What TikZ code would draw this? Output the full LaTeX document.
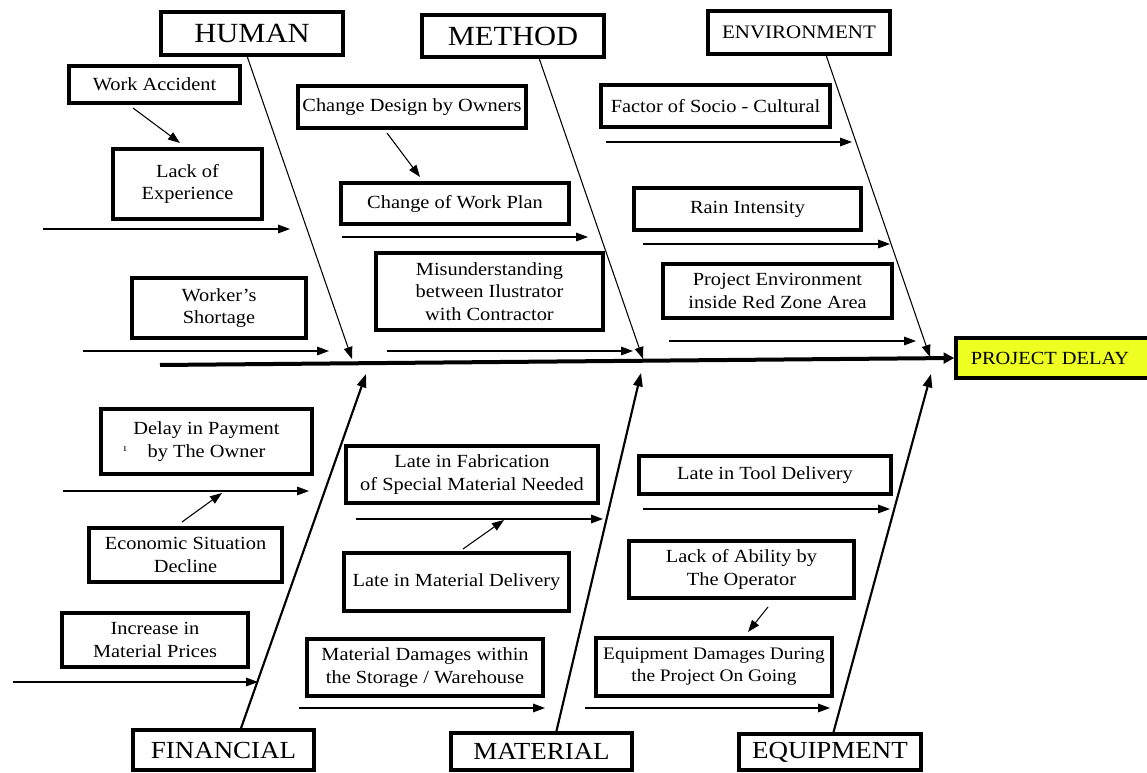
\documentclass[tikz,border=0pt]{standalone}
\usepackage{fontspec}
\setmainfont{Liberation Serif}[FakeStretch=1.1]
\usetikzlibrary{arrows.meta}
\definecolor{pdyellow}{RGB}{238,255,34}
\newcommand\bx[7][]{\node[cbox,#1,minimum width=\fpeval{(#5-#3)*0.75}pt,minimum height=\fpeval{(#6-#4)*0.75}pt] (#2) at ({(#3+#5)/2},{(#4+#6)/2}) {#7};}
\begin{document}
\begin{tikzpicture}[x=0.75pt,y=-0.75pt,
  cbox/.style={draw,line width=2.5pt,align=center,inner sep=0pt,font=\fontsize{13.9}{16.9}\selectfont},
  bigcat/.style={font=\fontsize{20.8}{24}\selectfont},
  midcat/.style={font=\fontsize{18.4}{22}\selectfont},
  smallcat/.style={font=\fontsize{14.3}{17}\selectfont},
  arr/.style={line width=0.8pt,-{Triangle[length=9pt,width=6.5pt]}},
  bbone/.style={line width=1.6pt,-{Triangle[length=10pt,width=7pt]}},
  spine/.style={line width=3pt,-{Triangle[length=8pt,width=8pt]}}]
\useasboundingbox (0,0) rectangle (1147,773);
% category boxes
\bx[bigcat]{human}{161}{12}{343}{55}{HUMAN}
\bx[bigcat]{method}{422}{15}{604}{57}{METHOD}
\bx[smallcat]{env}{708}{11}{890}{54}{ENVIRONMENT}
\bx[midcat]{fin}{133}{730}{314}{770}{FINANCIAL}
\bx[midcat]{mat}{451}{733}{632}{770}{MATERIAL}
\bx[midcat]{eq}{739}{734}{921}{770}{EQUIPMENT}
\bx[fill=pdyellow]{pd}{956}{338}{1152}{378}{\hspace*{-6pt}PROJECT DELAY}
% cause boxes
\bx{wa}{69}{66}{240}{103}{Work Accident}
\bx{le}{113}{149}{262}{219}{Lack of\\Experience}
\bx{ws}{132}{278}{306}{338}{Worker’s\\Shortage}
\bx{cd}{298}{86}{526}{128}{Change Design by Owners}
\bx{cw}{341}{183}{569}{224}{Change of Work Plan}
\bx{mu}{376}{253}{603}{330}{Misunderstanding\\between Ilustrator\\with Contractor}
\bx{fs}{601}{85}{830}{127}{Factor of Socio - Cultural}
\bx{ri}{634}{188}{861}{230}{Rain Intensity}
\bx{pe}{663}{264}{892}{318}{Project Environment\\inside Red Zone Area}
\bx{dp}{101}{409}{312}{474}{Delay in Payment\\by The Owner}
\node[font=\fontsize{8}{8}\selectfont] (stray) at (125,449) {ı};
\bx{es}{89}{528}{282}{582}{Economic Situation\\Decline}
\bx{ip}{62}{613}{248}{667}{Increase in\\Material Prices}
\bx{lf}{346}{446}{598}{503}{Late in Fabrication\\of Special Material Needed}
\bx{lm}{344}{553}{569}{611}{Late in Material Delivery}
\bx{md}{307}{639}{543}{696}{Material Damages within\\the Storage / Warehouse}
\bx{lt}{639}{456}{891}{494}{Late in Tool Delivery}
\bx{la}{629}{541}{854}{598}{Lack of Ability by\\The Operator}
\bx[font=\fontsize{13.2}{16.5}\selectfont]{ed}{596}{638}{832}{696}{Equipment Damages During\\the Project On Going}
% spine
\coordinate (sp0) at (160,365);
\draw[spine] (sp0) -- (pd.west);
% bone coordinates
\coordinate (hb0) at (247,56);  \coordinate (hb1) at (352,359);
\coordinate (mb0) at (539,58);  \coordinate (mb1) at (643,359);
\coordinate (eb0) at (826,55);  \coordinate (eb1) at (930,357);
\coordinate (fb0) at (240,731); \coordinate (fb1) at (366,374);
\coordinate (tb0) at (556,733); \coordinate (tb1) at (641,373);
\coordinate (qb0) at (833,734); \coordinate (qb1) at (931,374);
\draw[arr] (hb0) -- (hb1);
\draw[arr] (mb0) -- (mb1);
\draw[arr] (eb0) -- (eb1);
\draw[bbone] (fb0) -- (fb1);
\draw[bbone] (tb0) -- (tb1);
\draw[bbone] (qb0) -- (qb1);
% horizontal cause arrows
\foreach \n/\xa/\xb/\yy in {h1/43/290/229, h2/83/329/351, m1/342/588/237, m2/387/633/351,
  e1/606/852/142, e2/643/890/244, e3/669/916/341, f1/63/309/491, f2/13/258/682,
  t1/356/603/519, t2/299/545/708, q1/643/890/509, q2/585/830/708}{
  \coordinate (\n s) at (\xa,\yy);
  \coordinate (\n e) at (\xb,\yy);
  \draw[arr] (\n s) -- (\n e);
}
% sub-cause arrows
\coordinate (d1s) at (133,108); \coordinate (d1e) at (180,143);
\coordinate (d2s) at (387,133); \coordinate (d2e) at (420,177);
\coordinate (d3s) at (182,522); \coordinate (d3e) at (222,493);
\coordinate (d4s) at (463,549); \coordinate (d4e) at (504,520);
\coordinate (d5s) at (768,607); \coordinate (d5e) at (748,632);
\foreach \n in {d1,d2,d3,d4,d5}{\draw[arr] (\n s) -- (\n e);}
\end{tikzpicture}
\end{document}
